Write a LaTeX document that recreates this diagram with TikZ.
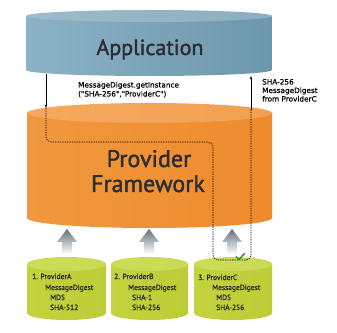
\documentclass[tikz,border=0pt]{standalone}
\usepackage{fontspec}
\setmainfont{PT Sans}
\newfontfamily\labfont[FakeBold=0.6]{DejaVu Sans}
\newfontfamily\titlefont[FakeBold=1.6]{PT Sans}
\newfontfamily\provfont[FakeBold=0.8]{PT Sans}
\usetikzlibrary{arrows.meta}
\definecolor{appL}{HTML}{8CB2C5}\definecolor{appM}{HTML}{B9D0DB}\definecolor{appR}{HTML}{6D97AD}
\definecolor{appCL}{HTML}{9DBCCB}\definecolor{appCM}{HTML}{C6D8E1}\definecolor{appCR}{HTML}{8AAEC0}
\definecolor{frL}{HTML}{F0983E}\definecolor{frM}{HTML}{F8C795}\definecolor{frR}{HTML}{EE8B2C}
\definecolor{frCL}{HTML}{F4A95E}\definecolor{frCM}{HTML}{F9C891}\definecolor{frCR}{HTML}{F2A050}
\definecolor{prL}{HTML}{C2D33E}\definecolor{prM}{HTML}{E3EC9C}\definecolor{prR}{HTML}{BCCD38}
\definecolor{prCL}{HTML}{CDDC58}\definecolor{prCM}{HTML}{E5ED9C}\definecolor{prCR}{HTML}{CBDA55}
\definecolor{titlecol}{HTML}{2B2D33}
\definecolor{grayarr}{HTML}{646F7A}
\definecolor{checkgreen}{HTML}{2E8B2E}
\newcommand\cylbody[9]{%
  \pgfmathsetmacro\rx{(#2-#1)/2}%
  \pgfmathsetmacro\cx{(#2+#1)/2}%
  \shade[left color=#6, middle color=#7, right color=#8]
    (#1,#3) -- (#1,#4) arc[start angle=180,end angle=360,x radius=\rx,y radius=#5] -- (#2,#3) -- cycle;
  \shade[#9] (\cx,#3) ellipse[x radius=\rx, y radius=#5];
}
\tikzset{
  bigtitle/.style={font=\titlefont\fontsize{22}{24}\selectfont, text=titlecol, inner sep=0pt, anchor=base},
  bigtitleb/.style={font=\titlefont\fontsize{24}{25}\selectfont, text=titlecol, inner sep=0pt, anchor=base},
  smalllab/.style={font=\labfont\fontsize{7.3}{8}\selectfont, text=black, inner sep=0pt, anchor=base west},
  provlab/.style={font=\provfont\fontsize{7.5}{8}\selectfont, text=black!85, inner sep=0pt, anchor=base west},
  grayarrow/.style={top color=grayarr, bottom color=white},
  conn/.style={line width=0.6pt, black},
  dashconn/.style={line width=0.6pt, black, dash pattern=on 1.3pt off 1.1pt, rounded corners=5pt},
  tip/.style={-{Stealth[length=3.5pt,width=2.6pt]}}
}
\begin{document}
\begin{tikzpicture}[x=1pt,y=1pt]
\useasboundingbox (0,0) rectangle (337,332);
% Application
\cylbody{26}{272}{316}{262}{6}{appL}{appM}{appR}{left color=appCL, middle color=appCM, right color=appCR}
\node[bigtitle] (app) at (150,277) {Application};
% Provider Framework
\cylbody{27}{272}{219}{114}{10}{frL}{frM}{frR}{left color=frCL, middle color=frCM, right color=frCR}
\node[bigtitleb] (pf1) at (149,165) {Provider};
\node[bigtitleb] (pf2) at (148,140) {Framework};
% Providers
\cylbody{27}{106}{68}{19}{7}{prL}{prM}{prR}{left color=prCL, middle color=prCM, right color=prCR}
\cylbody{111}{188}{68}{19}{7}{prL}{prM}{prR}{left color=prCL, middle color=prCM, right color=prCR}
\cylbody{194}{272}{68}{19}{7}{prL}{prM}{prR}{left color=prCL, middle color=prCM, right color=prCR}
% gray arrows
\foreach \ax in {67,149,232}{
  \shade[grayarrow] (\ax,103) -- (\ax+10,90) -- (\ax+5,90) -- (\ax+5,78) -- (\ax-5,78) -- (\ax-5,90) -- (\ax-10,90) -- cycle;
}
% provider texts
\node[provlab] (pa1) at (32,53) {1. ProviderA};
\node[provlab] (pa2) at (45,42) {MessageDigest};
\node[provlab] (pa3) at (50,32) {MD5};
\node[provlab] (pa4) at (50,22) {SHA-512};
\node[provlab] (pb1) at (114,53) {2. ProviderB};
\node[provlab] (pb2) at (128,42) {MessageDigest};
\node[provlab] (pb3) at (132,32) {SHA-1};
\node[provlab] (pb4) at (132,22) {SHA-256};
\node[provlab] (pc1) at (198,52) {3. ProviderC};
\node[provlab] (pc2) at (212,42) {MessageDigest};
\node[provlab] (pc3) at (216,32) {MD5};
\node[provlab] (pc4) at (216,22) {SHA-256};
% labels
\node[smalllab] (l1) at (78,244.5) {MessageDigest.getInstance};
\node[smalllab] (l2) at (78,235.5) {("SHA-256","ProviderC")};
\node[smalllab] (r1) at (262,247.5) {SHA-256};
\node[smalllab] (r2) at (262,239) {MessageDigest};
\node[smalllab] (r3) at (262,230.5) {from ProviderC};
% connectors
\coordinate (a1) at (46,258);
\coordinate (a2) at (46,224);
\coordinate (w1) at (46,190);
\coordinate (w2) at (213,190);
\coordinate (w3) at (213,72);
\coordinate (w4) at (251,72);
\coordinate (b1) at (251,222);
\coordinate (b2) at (251,256);
\draw[conn,tip] (a1) -- (a2);
\draw[dashconn] (a2) -- (w1) -- (w2) -- (w3) -- (w4) -- (b1);
\draw[conn,tip] (b1) -- (b2);
% check mark
\coordinate (k1) at (236,75.5);
\coordinate (k2) at (239,72.5);
\coordinate (k3) at (244.5,78.5);
\draw[checkgreen, line width=1.4pt, line cap=round, line join=round] (k1) -- (k2) -- (k3);
\end{tikzpicture}
\end{document}
